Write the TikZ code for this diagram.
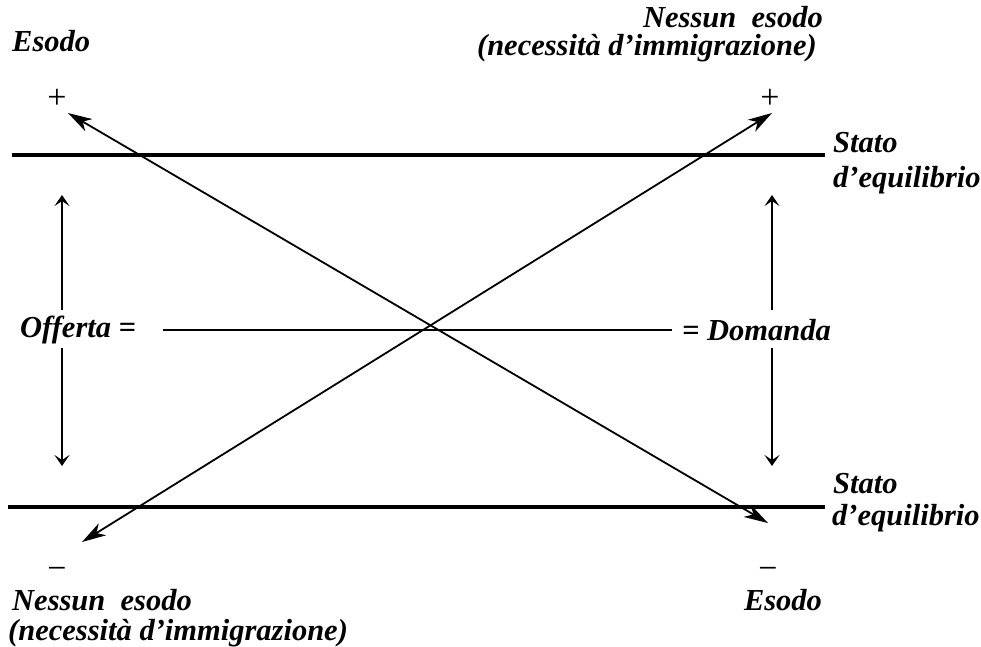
\documentclass[tikz,border=0pt]{standalone}
\usepackage{fontspec}
\setmainfont{Liberation Serif}
\usetikzlibrary{arrows.meta}
\begin{document}
\begin{tikzpicture}[x=1pt,y=-1pt,
 lbl/.style={font=\fontsize{30.5}{34}\selectfont\bfseries\itshape, inner sep=0pt},
 sgn/.style={font=\fontsize{34}{36}\selectfont, inner sep=0pt},
 eqline/.style={line width=3.2pt},
 midline/.style={line width=2pt},
 diag/.style={line width=1.8pt, {Stealth[length=24pt,width=14pt,inset=7pt]}-{Stealth[length=24pt,width=14pt,inset=7pt]}},
 vert/.style={line width=2pt, -{Stealth[length=11pt,width=15pt,inset=5pt]}},
]
\useasboundingbox (0,0) rectangle (981,646);
% labels
\node[lbl, anchor=west] (esodoTL) at (12,41) {Esodo};
\node[lbl, anchor=east] (nessunTR) at (823,17) {Nessun\ \ esodo};
\node[lbl, anchor=east] (necTR) at (817,48) {(necessità d’immigrazione)};
\node[sgn] (plusL) at (57,99) {+};
\node[sgn] (plusR) at (770,99) {+};
\node[lbl, anchor=west] (statoT) at (833,143) {Stato};
\node[lbl, anchor=west] (equilT) at (833,180) {d’equilibrio};
\node[lbl, anchor=west] (offerta) at (20,330) {Offerta =};
\node[lbl, anchor=west] (domanda) at (682,330) {= Domanda};
\node[lbl, anchor=west] (statoB) at (833,484) {Stato};
\node[lbl, anchor=west] (equilB) at (832,518) {d’equilibrio};
\node[sgn] (minusL) at (57,573) {−};
\node[sgn] (minusR) at (768,573) {−};
\node[lbl, anchor=west] (nessunBL) at (12,600) {Nessun\ \ esodo};
\node[lbl, anchor=west] (necBL) at (8,633) {(necessità d’immigrazione)};
\node[lbl] (esodoBR) at (783,600) {Esodo};
% coordinates
\coordinate (topA) at (12,155);
\coordinate (topB) at (825,155);
\coordinate (botA) at (8,507);
\coordinate (botB) at (825,507);
\coordinate (midA) at (163,330);
\coordinate (midB) at (672,330);
\coordinate (tl) at (68,113);
\coordinate (br) at (768,523);
\coordinate (bl) at (82,542);
\coordinate (tr) at (772,113);
\coordinate (luS) at (62,310);
\coordinate (luE) at (62,195);
\coordinate (ldS) at (62,348);
\coordinate (ldE) at (62,466);
\coordinate (ruS) at (772,310);
\coordinate (ruE) at (772,195);
\coordinate (rdS) at (772,348);
\coordinate (rdE) at (772,466);
% lines
\draw[eqline] (topA) -- (topB);
\draw[eqline] (botA) -- (botB);
\draw[midline] (midA) -- (midB);
\draw[diag] (tl) -- (br);
\draw[diag] (bl) -- (tr);
\draw[vert] (luS) -- (luE);
\draw[vert] (ldS) -- (ldE);
\draw[vert] (ruS) -- (ruE);
\draw[vert] (rdS) -- (rdE);
\end{tikzpicture}
\end{document}
